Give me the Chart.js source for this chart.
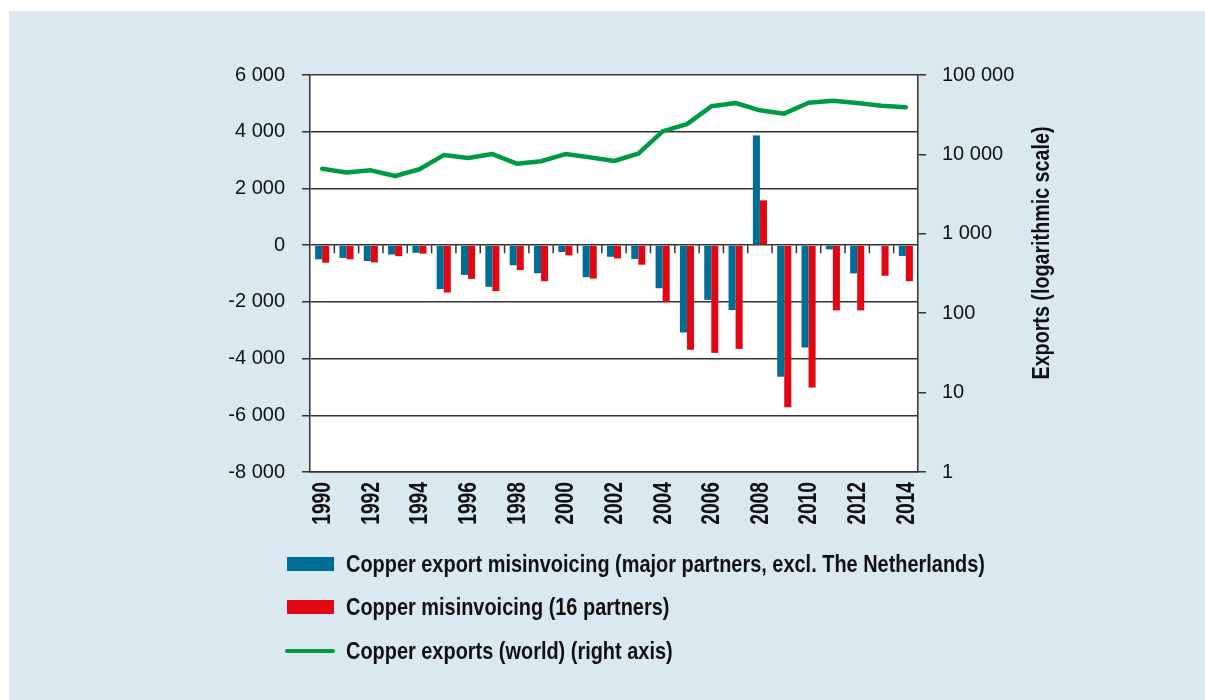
<!DOCTYPE html>
<html>
<head>
<meta charset="utf-8">
<script src="https://cdn.jsdelivr.net/npm/chart.js@4.4.1/dist/chart.umd.min.js"></script>
<style>
    html, body { margin: 0; padding: 0; background: #ffffff; }
    #panel { position: absolute; left: 9px; top: 11px; width: 1196px; height: 689px; background: #dae8f0; }
    #wrap { position: absolute; left: 0; top: 0; width: 1205px; height: 700px; }
    #legend { position: absolute; left: 285px; top: 542px; font-family: "Liberation Sans", Arial, sans-serif; font-weight: bold; font-size: 24px; color: #111; }
    .row { height: 43.5px; display: flex; align-items: center; white-space: nowrap; }
    .swatch { width: 47px; height: 14px; margin-left: 2px; margin-right: 12px; flex: none; }
    .lineSwatch { width: 50px; height: 4px; border-radius: 2px; margin-right: 11px; flex: none; }
    .txt { display: inline-block; transform-origin: left center; }
</style>
</head>
<body>
<div id="panel"></div>
<div id="wrap"><canvas id="chart" width="1205" height="700"></canvas></div>
<div id="legend"></div>
<script>
// years on the x axis
const years = ["1990", "1991", "1992", "1993", "1994", "1995", "1996", "1997", "1998", "1999",
    "2000", "2001", "2002", "2003", "2004", "2005", "2006", "2007", "2008", "2009",
    "2010", "2011", "2012", "2013", "2014"];

// misinvoicing, left axis
const exportMisinvoicing = [-500, -450, -560, -330, -270, -1550, -1050, -1470, -710, -990,
    -240, -1130, -410, -490, -1520, -3080, -1930, -2290, 3870, -4640,
    -3610, -150, -1000, 0, -380];
const misinvoicing16 = [-620, -500, -610, -390, -300, -1670, -1190, -1620, -880, -1270,
    -360, -1180, -470, -690, -2010, -3690, -3800, -3660, 1580, -5720,
    -5020, -2300, -2300, -1080, -1270];

// world exports, right axis (log scale)
const worldExports = [6600, 5900, 6300, 5350, 6500, 9800, 9000, 10100, 7640, 8200,
    10100, 9200, 8260, 10200, 19500, 24100, 40300, 44400, 35900, 32600,
    44800, 47500, 44400, 41000, 39200];

const rightTicks = [1, 10, 100, 1000, 10000, 100000];

const labels = {
    blue: "Copper export misinvoicing (major partners, excl. The Netherlands)",
    red: "Copper misinvoicing (16 partners)",
    green: "Copper exports (world) (right axis)"
};
const rightTitle = "Exports (logarithmic scale)";

const BLUE = "#006d94";
const RED = "#e30613";
const GREEN = "#009a44";
const LINE = "#333333";
const regular = "'Liberation Sans', Arial, sans-serif";

function spaced(v) {
    return String(v).replace(/\B(?=(\d{3})+(?!\d))/g, " ");
}

// draws text rotated to read upwards, squeezed along its length (condensed look)
function upText(c, text, x, y, font, squeeze, align) {
    c.save();
    c.translate(x, y);
    c.rotate(-Math.PI / 2);
    c.scale(squeeze, 1);
    c.font = font;
    c.fillStyle = "#111";
    c.textAlign = align;
    c.textBaseline = "middle";
    c.fillText(text, 0, 0);
    c.restore();
}

// white plot area, zero-line ticks, year labels and right axis title
const extras = {
    id: "extras",
    beforeDraw(chart) {
        const a = chart.chartArea;
        const c = chart.ctx;
        c.save();
        c.fillStyle = "#ffffff";
        c.fillRect(a.left, a.top, a.right - a.left, a.bottom - a.top);
        c.restore();
    },
    afterDatasetsDraw(chart) {
        const c = chart.ctx;
        const x = chart.scales.x;
        const y0 = chart.scales.y.getPixelForValue(0);
        const step = x.getPixelForValue(1) - x.getPixelForValue(0);
        c.save();
        c.strokeStyle = LINE;
        c.lineWidth = 1.5;
        c.beginPath();
        for (let i = 1; i < years.length; i++) {
            const px = x.getPixelForValue(i) - step / 2;
            c.moveTo(px, y0);
            c.lineTo(px, y0 + 8);
        }
        c.stroke();
        c.restore();
    },
    afterDraw(chart) {
        const c = chart.ctx;
        const x = chart.scales.x;
        const bottom = chart.chartArea.bottom;
        const yearFont = "bold 25px " + regular;
        for (let i = 0; i < years.length; i += 2) {
            upText(c, years[i], x.getPixelForValue(i) + 1, bottom + 10, yearFont, 0.77, "right");
        }
        const titleFont = "bold 23px " + regular;
        c.save();
        c.font = titleFont;
        const w = c.measureText(rightTitle).width;
        c.restore();
        upText(c, rightTitle, 1043, 253, titleFont, 253 / w, "center");
    }
};

const ctx = document.getElementById("chart").getContext("2d");
const chart = new Chart(ctx, {
    type: "bar",
    data: {
        labels: years,
        datasets: [
            {
                type: "line",
                label: labels.green,
                data: worldExports,
                yAxisID: "y2",
                borderColor: GREEN,
                borderWidth: 4.5,
                pointRadius: 0,
                tension: 0,
                borderCapStyle: "round",
                borderJoinStyle: "round",
                order: 0
            },
            {
                label: labels.blue,
                data: exportMisinvoicing,
                yAxisID: "y",
                backgroundColor: BLUE,
                categoryPercentage: 0.58,
                barPercentage: 1.0,
                order: 1
            },
            {
                label: labels.red,
                data: misinvoicing16,
                yAxisID: "y",
                backgroundColor: RED,
                categoryPercentage: 0.58,
                barPercentage: 1.0,
                order: 2
            }
        ]
    },
    options: {
        responsive: false,
        animation: false,
        layout: { padding: { top: 75, left: 0, right: 0, bottom: 0 } },
        plugins: {
            legend: { display: false },
            tooltip: { enabled: false }
        },
        scales: {
            x: {
                grid: { display: false },
                border: { display: true, color: LINE, width: 1.5 },
                ticks: { display: false },
                afterFit: s => { s.height = 228; }
            },
            y: {
                position: "left",
                min: -8000,
                max: 6000,
                grid: { color: LINE, lineWidth: 1.5, tickLength: 8, tickColor: LINE },
                border: { display: true, color: LINE, width: 1.5 },
                ticks: {
                    stepSize: 2000,
                    padding: 17,
                    color: "#111",
                    font: { family: regular, size: 20 },
                    callback: v => spaced(v)
                },
                afterFit: s => { s.width = 310; }
            },
            y2: {
                type: "logarithmic",
                position: "right",
                min: 1,
                max: 100000,
                grid: { drawOnChartArea: false, tickLength: 8, color: LINE, lineWidth: 1.5 },
                border: { display: true, color: LINE, width: 1.5 },
                afterBuildTicks: s => { s.ticks = rightTicks.map(v => ({ value: v })); },
                ticks: {
                    padding: 16,
                    color: "#111",
                    font: { family: regular, size: 20 },
                    callback: v => spaced(v)
                },
                afterFit: s => { s.width = 287; }
            }
        }
    },
    plugins: [extras]
});

// legend below the chart, in the reference order
const legendItems = [
    { text: labels.blue, color: BLUE, kind: "box" },
    { text: labels.red, color: RED, kind: "box" },
    { text: labels.green, color: GREEN, kind: "line" }
];
const legendEl = document.getElementById("legend");
legendEl.innerHTML = legendItems.map(item =>
    `<div class="row"><span class="${item.kind === "box" ? "swatch" : "lineSwatch"}" style="background:${item.color}"></span><span class="txt">${item.text}</span></div>`
).join("");
// squeeze the legend text to the condensed width of the reference
const firstWidth = legendEl.querySelector(".txt").getBoundingClientRect().width;
const squeeze = 639 / firstWidth;
legendEl.querySelectorAll(".txt").forEach(el => { el.style.transform = `scaleX(${squeeze})`; });
</script>
</body>
</html>
